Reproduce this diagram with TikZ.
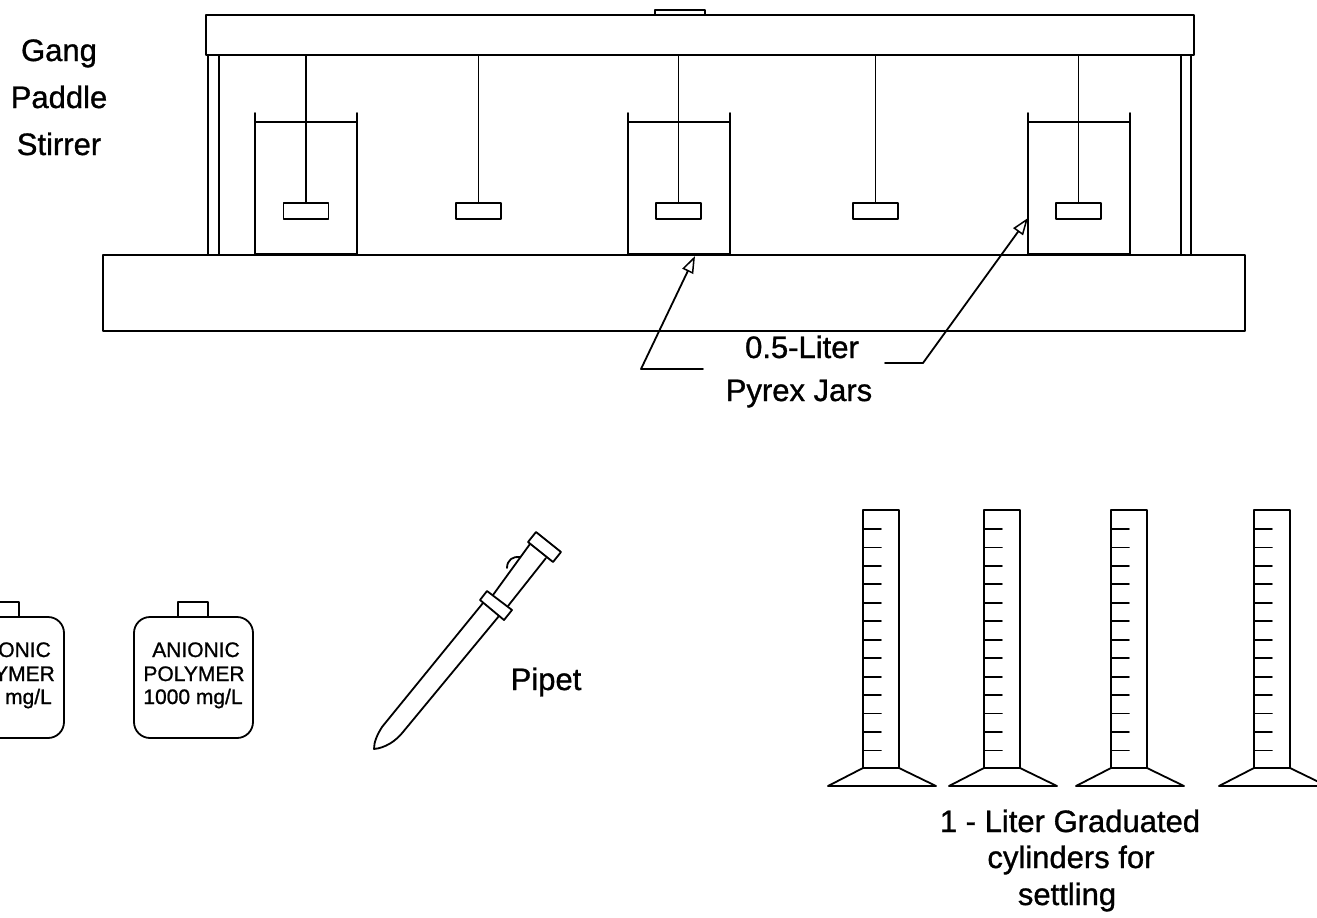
\documentclass[tikz,border=0pt]{standalone}
\usepackage{fontspec}
\setmainfont{Liberation Sans}
\newfontfamily\scanfont[FakeBold=1]{Liberation Sans}
\usetikzlibrary{arrows.meta}
\tikzset{
  line/.style={line width=1.8pt,line cap=round,line join=round},
  boxnode/.style={line,draw,inner sep=0pt,outer sep=0pt},
  biglabel/.style={anchor=base,inner sep=0pt,font=\scanfont\fontsize{31}{33}\selectfont},
  botlabel/.style={anchor=base,inner sep=0pt,font=\scanfont\fontsize{21}{23}\selectfont},
  cutlabel/.style={anchor=base east,inner sep=0pt,font=\scanfont\fontsize{21}{23}\selectfont},
  openarrow/.style={-{Triangle[open,length=17pt,width=12pt,line width=1.5pt]}}
}
\begin{document}
\begin{tikzpicture}[x=1pt,y=-1pt]
\useasboundingbox (0,0) rectangle (1317,918);
\clip (0,0) rectangle (1317,918);
% stirrer
\node[boxnode,minimum width=50pt,minimum height=5pt] (knob) at (680,12.5) {};
\node[boxnode,fill=white,minimum width=988pt,minimum height=40pt] (bar) at (700,35) {};
\node[boxnode,minimum width=1142pt,minimum height=76pt] (base) at (674,293) {};
\foreach \x in {208,219,1181,1191}{\draw[line] (\x,55) -- (\x,255);}
% jars
\foreach \n/\x in {a/255,b/628,c/1028}{
  \draw[line] (\x,113) -- (\x,254) -- (\x+102,254) -- (\x+102,113);
  \draw[line] (\x,122) -- (\x+102,122);
}
% paddles
\foreach \n/\x in {a/306,b/478.5,c/678.5,d/875.5,e/1078.5}{
  \node[boxnode,minimum width=45pt,minimum height=16pt] (pad\n) at (\x,211) {};
  \coordinate (sh\n) at (\x,55);
  \draw[line] (sh\n) -- (pad\n.north);
}
% labels top
\node[biglabel] (l1) at (59,61) {Gang};
\node[biglabel] (l2) at (59,108) {Paddle};
\node[biglabel] (l3) at (59,155) {Stirrer};
\node[biglabel] (jl1) at (802,358) {0.5-Liter};
\node[biglabel] (jl2) at (799,401) {Pyrex Jars};
% jar arrows
\coordinate (a1) at (703,369);
\coordinate (a2) at (641,369);
\coordinate (a3) at (695,256);
\coordinate (b1) at (885,363);
\coordinate (b2) at (923,363);
\coordinate (b3) at (1028,218);
\draw[line,openarrow] (a1) -- (a2) -- (a3);
\draw[line,openarrow] (b1) -- (b2) -- (b3);
% bottles
\foreach \n/\d in {p/-189,q/0}{
  \draw[line] (178+\d,617) -- (178+\d,602) -- (208+\d,602) -- (208+\d,617);
  \node[boxnode,rounded corners=16pt,minimum width=119pt,minimum height=121pt] (bot\n) at (193.5+\d,677.5) {};
}
\node[cutlabel] (bp1) at (51,657) {ONIC};
\node[cutlabel] (bp2) at (55,681) {YMER};
\node[cutlabel] (bp3) at (52,704) {mg/L};
\node[botlabel] (bq1) at (196,657) {ANIONIC};
\node[botlabel] (bq2) at (194,681) {POLYMER};
\node[botlabel] (bq3) at (193,704) {1000 mg/L};
% pipet
\draw[line] (536,532) -- (561,552) -- (553,562) -- (528,542) -- cycle;
\draw[line] (530,544) -- (493,595);
\draw[line] (546,558) -- (508,606);
\draw[line] (487,591) -- (512,610) -- (504,620) -- (480,600) -- cycle;
\draw[line] (483,603) -- (382,727) .. controls (377,735) and (374,742) .. (374,749) .. controls (385,748) and (396,741) .. (403,732) -- (499,616);
\draw[line] (507,568) .. controls (507,560) and (513,556) .. (520,557);
\node[biglabel] (pipetl) at (546,690) {Pipet};
% cylinders
\foreach \n/\x in {1/863,2/984,3/1111,4/1254}{
  \draw[line] (\x,510) -- (\x,768) -- (\x+36,768) -- (\x+36,510) -- cycle;
  \draw[line] (\x,768) -- (\x-35,786) -- (\x+73,786) -- (\x+36,768);
  \foreach \k in {0,...,12}{
    \draw[line] (\x,529+18.45*\k) -- (\x+18,529+18.45*\k);
  }
}
\node[biglabel] (c1) at (1070,832) {1 - Liter Graduated};
\node[biglabel] (c2) at (1071,868) {cylinders for};
\node[biglabel] (c3) at (1067,905) {settling};
\end{tikzpicture}
\end{document}
